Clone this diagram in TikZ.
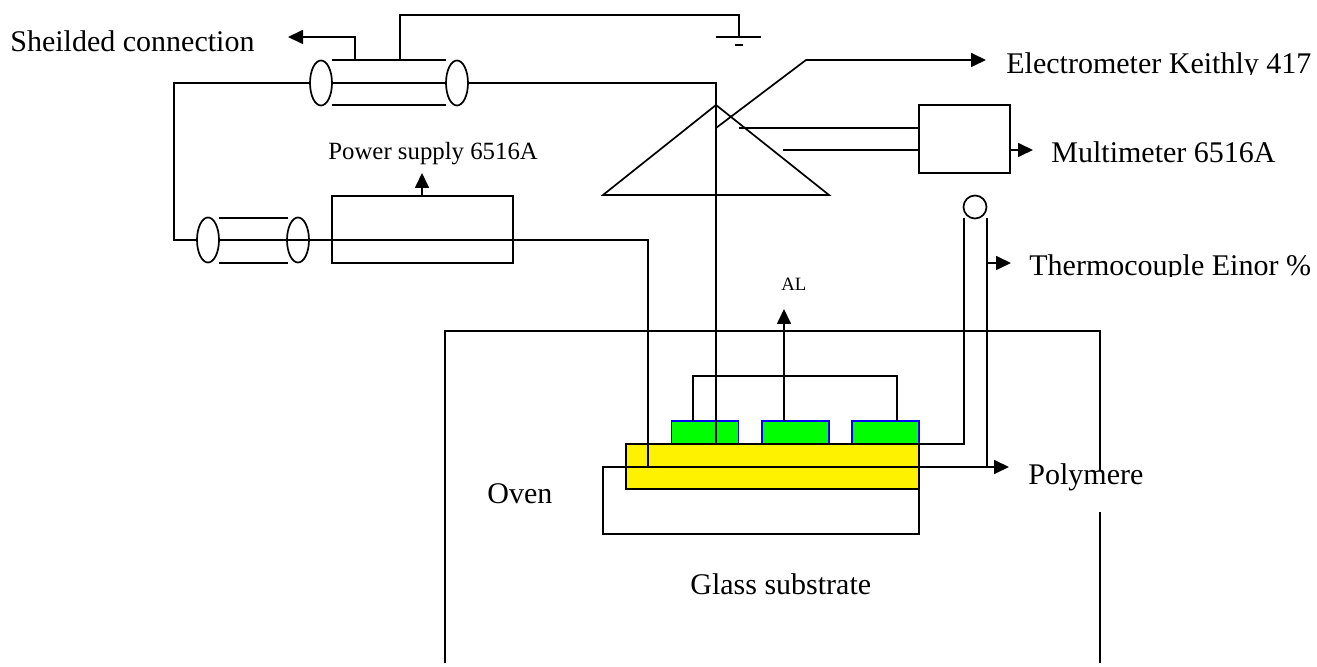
\documentclass[tikz,border=0pt]{standalone}
\usepackage{fontspec}
\setmainfont{Liberation Serif}
\usetikzlibrary{positioning, arrows.meta, shapes.geometric}
\tikzset{
x=0.5pt, y=-0.5pt, % one unit is one pixel of the layout
wire/.style={line width=0.85pt}, % sets the look of each plain connection
thinwire/.style={line width=0.6pt},
signal/.style={wire, -{Triangle[length=7.5pt,width=7pt]}}, % connection ending on a solid arrow
capend/.style={draw, ellipse, line width=0.85pt, inner sep=0, outer sep=0, minimum width=11pt, minimum height=22.5pt},
device/.style={draw, rectangle, line width=0.85pt, inner sep=0, outer sep=0},
pad/.style={draw=blue, fill=green, line width=0.8pt, inner sep=0, minimum width=33.5pt, minimum height=11.5pt},
biglabel/.style={inner sep=0, anchor=base west, font=\fontsize{15}{18}\selectfont},
}

\begin{document}
\begin{tikzpicture}
        \useasboundingbox (0,0) rectangle (1317,667);

        % oven walls
        \coordinate (ovenTL) at (445,331);
        \coordinate (ovenTM) at (761,331);
        \coordinate (ovenTR) at (1100,331);
        \coordinate (ovenBL) at (445,663);
        \coordinate (ovenRa) at (1100,470);
        \coordinate (ovenRb) at (1100,512);
        \coordinate (ovenBR) at (1100,663);
        \draw[wire] (ovenBL) -- (ovenTL) -- (ovenTM);
        \draw[thinwire] (ovenTM) -- (ovenTR) -- (ovenRa);
        \draw[thinwire] (ovenRb) -- (ovenBR);

        % sample
        \node[pad] (padA) at (705,432.5) {};
        \node[pad] (padB) at (795.5,432.5) {};
        \node[pad] (padC) at (885.5,432.5) {};
        \node[device, fill=yellow, minimum width=146.5pt, minimum height=22.5pt] (polymer) at (772.5,466.5) {};
        \node[device, line width=0.7pt, minimum width=158pt, minimum height=33.5pt] (glass) at (761,500.5) {};

        % shielded cables
        \node[capend] (capA) at (321,83) {};
        \node[capend] (capB) at (457,83) {};
        \node[capend] (capC) at (208,240) {};
        \node[capend] (capD) at (298,240) {};
        \coordinate (shAt) at (332,60);
        \coordinate (shAb) at (332,105);
        \coordinate (shBt) at (446,60);
        \coordinate (shBb) at (446,105);
        \coordinate (shCt) at (219,218);
        \coordinate (shCb) at (219,263);
        \coordinate (shDt) at (288,218);
        \coordinate (shDb) at (288,263);
        \draw[wire] (shAt) -- (shBt);
        \draw[wire] (shAb) -- (shBb);
        \draw[wire] (shCt) -- (shDt);
        \draw[wire] (shCb) -- (shDb);

        % devices
        \node[device, minimum width=90.5pt, minimum height=33.5pt] (supply) at (422.5,229.5) {};
        \node[device, minimum width=45.5pt, minimum height=34pt] (meter) at (964.5,139) {};
        \node[draw, circle, line width=0.85pt, inner sep=0, minimum size=11.5pt] (bead) at (975,207) {};

        % probe triangle
        \coordinate (triL) at (603,195);
        \coordinate (apex) at (716,105);
        \coordinate (triR) at (829,195);
        \draw[wire] (triL) -- (apex) -- (triR) -- cycle;

        % ground
        \coordinate (gndTap) at (400,60);
        \coordinate (gndA) at (400,15);
        \coordinate (gndB) at (739,15);
        \coordinate (gndC) at (739,37);
        \coordinate (gndL) at (716,37);
        \coordinate (gndR) at (761,37);
        \coordinate (minusL) at (735,45);
        \coordinate (minusR) at (743,45);
        \draw[wire] (gndTap) -- (gndA) -- (gndB) -- (gndC);
        \draw[wire] (gndL) -- (gndR);
        \draw[line width=1.2pt] (minusL) -- (minusR);

        % connections
        \coordinate (shTap) at (355,60);
        \coordinate (shBend) at (355,37);
        \coordinate (shEnd) at (288,37);
        \draw[signal] (shTap) -- (shBend) -- (shEnd);

        \coordinate (loopA) at (174,83);
        \coordinate (loopB) at (174,240);
        \coordinate (capMidA) at (332,83);
        \coordinate (capMidB) at (446,83);
        \coordinate (midTop) at (569,83);
        \coordinate (probeTop) at (716,83);
        \coordinate (probeEnd) at (716,444);
        \draw[wire] (capA.west) -- (loopA) -- (loopB) -- (capC.west);
        \draw[wire] (capMidA) -- (capMidB);
        \draw[wire] (capB.east) -- (midTop);
        \draw[thinwire] (midTop) -- (probeTop) -- (probeEnd);

        \coordinate (supplyRun) at (648,240);
        \coordinate (heaterEnd) at (648,467);
        \draw[wire] (capC.east) -- (supplyRun) -- (heaterEnd);
        \coordinate (supplyTap) at (422,196);
        \coordinate (supplyEnd) at (422,173);
        \draw[signal] (supplyTap) -- (supplyEnd);

        \coordinate (elecA) at (716,128);
        \coordinate (elecB) at (806,60);
        \coordinate (elecEnd) at (986,60);
        \draw[signal] (elecA) -- (elecB) -- (elecEnd);

        \coordinate (meterInA) at (739,128);
        \coordinate (meterInB) at (783,150);
        \coordinate (meterPortA) at (919,128);
        \coordinate (meterPortB) at (919,150);
        \coordinate (meterOut) at (1010,150);
        \coordinate (meterEnd) at (1033,150);
        \draw[wire] (meterInA) -- (meterPortA);
        \draw[wire] (meterInB) -- (meterPortB);
        \draw[signal] (meterOut) -- (meterEnd);

        \coordinate (tcLtop) at (964,218);
        \coordinate (tcLbot) at (964,444);
        \coordinate (tcRtop) at (987,218);
        \coordinate (tcRbot) at (987,467);
        \coordinate (tcTap) at (987,263);
        \coordinate (tcEnd) at (1011,263);
        \draw[wire] (polymer.north east) -- (tcLbot) -- (tcLtop);
        \draw[wire] (tcRtop) -- (tcRbot);
        \draw[signal] (tcTap) -- (tcEnd);

        \coordinate (polyEnd) at (1009,467);
        \draw[signal] (heaterEnd) -- (polyEnd);

        \coordinate (alTap) at (784,421);
        \coordinate (alEnd) at (784,309);
        \draw[signal] (alTap) -- (alEnd);
        \coordinate (brL) at (693,421);
        \coordinate (brLt) at (693,376);
        \coordinate (brRt) at (897,376);
        \coordinate (brR) at (897,421);
        \draw[wire] (brL) -- (brLt) -- (brRt) -- (brR);

        % labels
        \node[biglabel] (shieldText) at (10,52) {Sheilded connection};
        \node[inner sep=0, anchor=base west, font=\fontsize{12.4}{14}\selectfont] (supplyText) at (328,160) {Power supply 6516A};
        \node[biglabel] (elecText) at (1006,74) {Electrometer Keithly 417};
        \node[biglabel] (meterText) at (1051,163) {Multimeter 6516A};
        \node[biglabel] (tcText) at (1029,276) {Thermocouple Einor \%};
        \node[inner sep=0, anchor=base west, font=\fontsize{9.4}{11}\selectfont] (alText) at (781,291) {AL};
        \node[biglabel] (polyText) at (1028,485) {Polymere};
        \node[biglabel] (ovenText) at (487,504) {Oven};
        \node[biglabel] (glassText) at (690,595) {Glass substrate};

        % the lower edge of these lines is cut off
        \fill[white] (1000,75) rectangle (1317,86);
        \fill[white] (1025,277) rectangle (1317,288);
\end{tikzpicture}
\end{document}
